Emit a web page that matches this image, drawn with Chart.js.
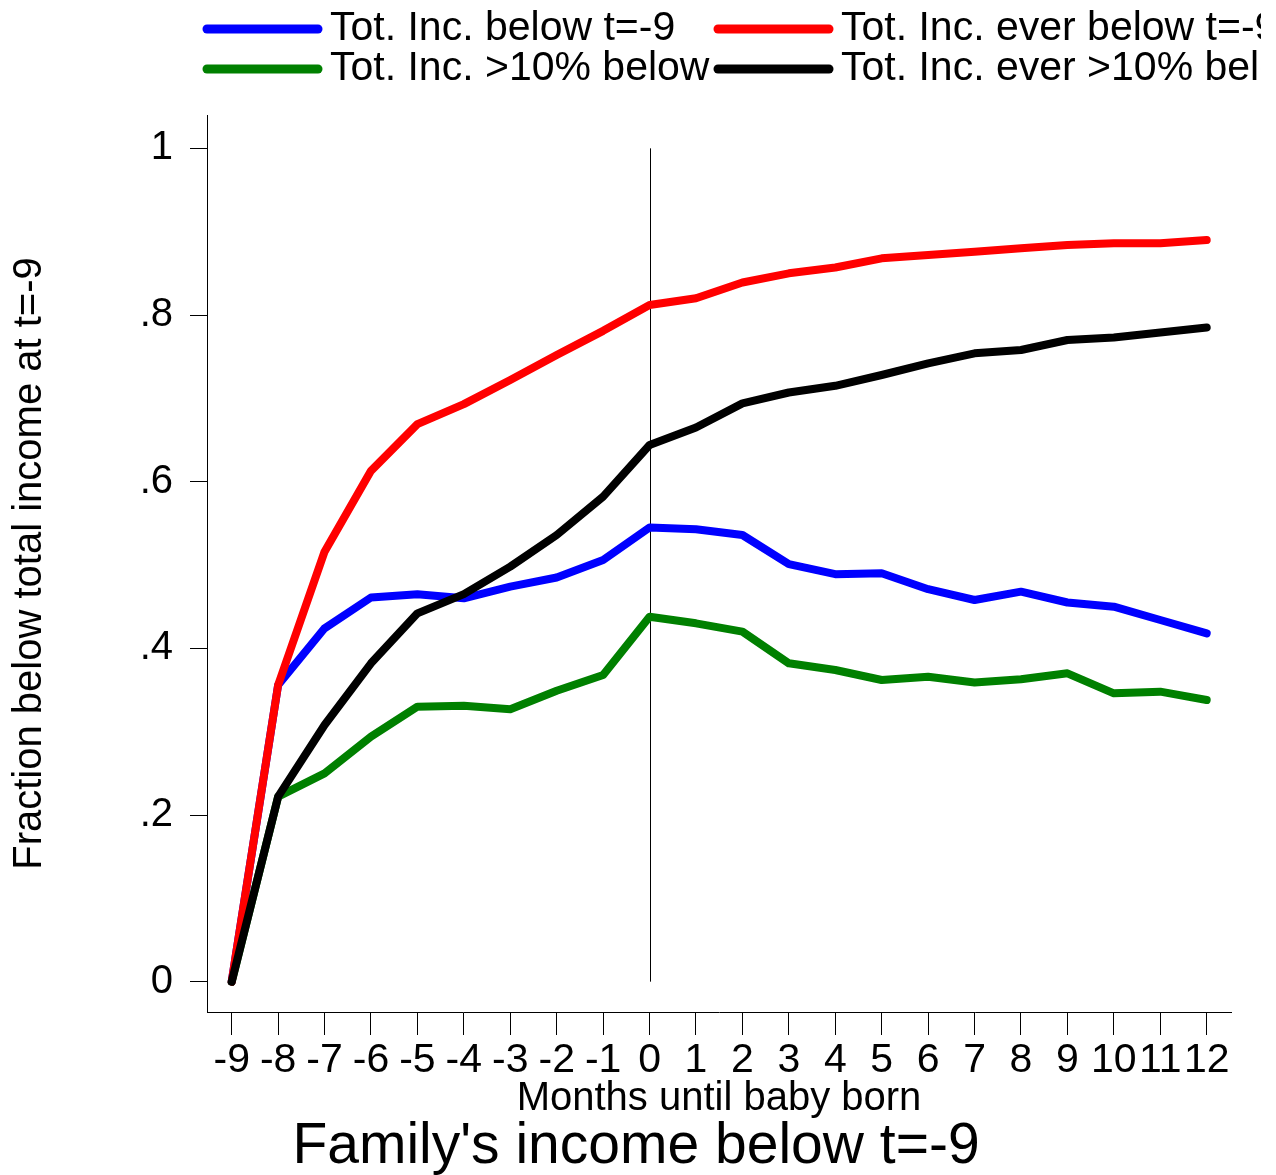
<!DOCTYPE html>
<html>
<head>
<meta charset="utf-8">
<script src="https://cdn.jsdelivr.net/npm/chart.js@4.4.1/dist/chart.umd.min.js"></script>
<style>
  html, body { margin: 0; padding: 0; background: #fff; }
  #wrap { width: 1276px; height: 1175px; }
</style>
</head>
<body>
<div id="wrap"><canvas id="chart" width="1276" height="1175"></canvas></div>
<script>
// Data
const months = [-9, -8, -7, -6, -5, -4, -3, -2, -1, 0, 1, 2, 3, 4, 5, 6, 7, 8, 9, 10, 11, 12];
const belowT9 = [0, 0.356, 0.424, 0.461, 0.465, 0.460, 0.474, 0.485, 0.506, 0.545, 0.543, 0.536, 0.501, 0.489, 0.490, 0.471, 0.458, 0.468, 0.455, 0.450, 0.434, 0.418];
const everBelowT9 = [0, 0.356, 0.516, 0.613, 0.669, 0.693, 0.722, 0.752, 0.781, 0.812, 0.820, 0.839, 0.850, 0.857, 0.868, 0.872, 0.876, 0.880, 0.884, 0.886, 0.886, 0.890];
const below10 = [0, 0.222, 0.250, 0.294, 0.330, 0.331, 0.327, 0.349, 0.368, 0.438, 0.430, 0.420, 0.382, 0.374, 0.362, 0.366, 0.359, 0.363, 0.370, 0.346, 0.348, 0.338];
const everBelow10 = [0, 0.222, 0.308, 0.382, 0.442, 0.465, 0.498, 0.536, 0.582, 0.644, 0.665, 0.694, 0.707, 0.715, 0.728, 0.742, 0.754, 0.758, 0.770, 0.773, 0.779, 0.785];

const xTicks = months;
const yTicks = [0, 0.2, 0.4, 0.6, 0.8, 1];
const yTickLabels = ['0', '.2', '.4', '.6', '.8', '1'];

const FONT = '"Liberation Sans", Arial, Helvetica, sans-serif';

const toPoints = (vals) => vals.map((v, i) => ({ x: months[i], y: v }));

const series = [
    { label: 'Tot. Inc. below t=-9', data: belowT9, color: '#0000ff', order: 4 },
    { label: 'Tot. Inc. ever below t=-9', data: everBelowT9, color: '#ff0000', order: 2 },
    { label: 'Tot. Inc. >10% below', data: below10, color: '#008000', order: 3 },
    { label: 'Tot. Inc. ever >10% below', data: everBelow10, color: '#000000', order: 1 }
];

// Stata-style legend at the top, two columns (cut off at the right edge like the original)
const legendPlugin = {
    id: 'topLegend',
    afterDraw(chart) {
        const ctx = chart.ctx;
        const cols = [207, 718];
        const rows = [29, 69];
        ctx.save();
        ctx.beginPath();
        ctx.rect(0, 0, 1261, 100);
        ctx.clip();
        ctx.font = '41px ' + FONT;
        ctx.textBaseline = 'alphabetic';
        ctx.textAlign = 'left';
        series.forEach((s, i) => {
            const cx = cols[i % 2];
            const cy = rows[Math.floor(i / 2)];
            ctx.strokeStyle = s.color;
            ctx.lineWidth = 9;
            ctx.lineCap = 'round';
            ctx.beginPath();
            ctx.moveTo(cx, cy);
            ctx.lineTo(cx + 111, cy);
            ctx.stroke();
            ctx.fillStyle = '#000';
            ctx.fillText(s.label, cx + 123, cy + 11);
        });
        ctx.restore();
    }
};

// vertical reference line at month 0, plus bottom title
const extrasPlugin = {
    id: 'extras',
    beforeDatasetsDraw(chart) {
        const { ctx, scales: { x, y } } = chart;
        const px = Math.round(x.getPixelForValue(0)) + 0.5;
        ctx.save();
        ctx.strokeStyle = '#000';
        ctx.lineWidth = 1;
        ctx.beginPath();
        ctx.moveTo(px, y.getPixelForValue(0));
        ctx.lineTo(px, y.getPixelForValue(1));
        ctx.stroke();
        ctx.restore();
    },
    afterDraw(chart) {
        const ctx = chart.ctx;
        ctx.save();
        ctx.font = '57px ' + FONT;
        ctx.fillStyle = '#000';
        ctx.textAlign = 'center';
        ctx.textBaseline = 'alphabetic';
        ctx.fillText("Family's income below t=-9", 636, 1163);
        ctx.restore();
    }
};

new Chart(document.getElementById('chart'), {
    type: 'line',
    data: {
        datasets: series.map(s => ({
            label: s.label,
            data: toPoints(s.data),
            borderColor: s.color,
            backgroundColor: s.color,
            borderWidth: 8,
            borderCapStyle: 'round',
            borderJoinStyle: 'round',
            pointRadius: 0,
            tension: 0,
            order: s.order
        }))
    },
    options: {
        responsive: false,
        animation: false,
        devicePixelRatio: 1,
        layout: { padding: { top: 115, right: 45, left: 0, bottom: 0 } },
        plugins: {
            legend: { display: false },
            tooltip: { enabled: false }
        },
        scales: {
            x: {
                type: 'linear',
                min: -9.532,
                max: 12.523,
                afterBuildTicks: (s) => { s.ticks = xTicks.map(v => ({ value: v })); },
                afterFit: (s) => { s.height = 163; },
                ticks: {
                    autoSkip: false,
                    maxRotation: 0,
                    padding: 1,
                    color: '#000',
                    font: { family: FONT, size: 41 }
                },
                grid: { drawOnChartArea: false, tickLength: 23, color: '#000', tickWidth: 1 },
                border: { color: '#000', width: 1 },
                title: {
                    display: true,
                    text: 'Months until baby born',
                    color: '#000',
                    font: { family: FONT, size: 40 },
                    padding: { top: 0, bottom: 52 }
                }
            },
            y: {
                type: 'linear',
                min: -0.0364,
                max: 1.040,
                afterBuildTicks: (s) => { s.ticks = yTicks.map(v => ({ value: v })); },
                afterFit: (s) => { s.width = 207; },
                ticks: {
                    padding: 17,
                    color: '#000',
                    font: { family: FONT, size: 40 },
                    callback: (v) => yTickLabels[yTicks.indexOf(v)] ?? ''
                },
                grid: { drawOnChartArea: false, tickLength: 17, color: '#000', tickWidth: 1 },
                border: { color: '#000', width: 1 },
                title: {
                    display: true,
                    text: 'Fraction below total income at t=-9',
                    color: '#000',
                    font: { family: FONT, size: 40 },
                    padding: { top: 6, bottom: 0 }
                }
            }
        }
    },
    plugins: [legendPlugin, extrasPlugin]
});
</script>
</body>
</html>
